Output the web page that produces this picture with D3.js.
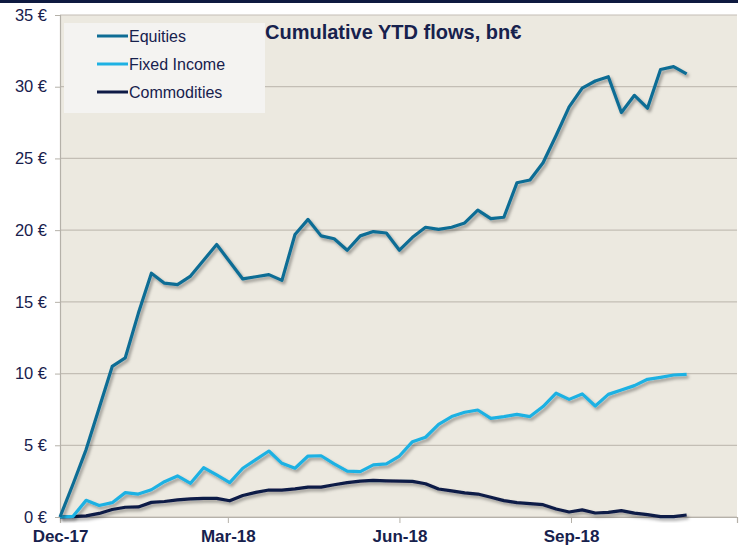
<!DOCTYPE html>
<html>
<head>
<meta charset="utf-8">
<script src="https://cdn.jsdelivr.net/npm/d3@7"></script>
<style>
  body { margin: 0; background: #fff; }
  svg { display: block; font-family: "Liberation Sans", Arial, sans-serif; }
</style>
</head>
<body>
<div id="chart"></div>
<script>
// weekly cumulative flows, bn EUR
const seriesNames = ["Equities", "Fixed Income", "Commodities"];
const equities = [0, 2.3, 4.7, 7.6, 10.5, 11.1, 14.2, 17.0, 16.3, 16.2, 16.8, 17.9, 19.0, 17.8, 16.6, 16.75,
  16.9, 16.5, 19.7, 20.75, 19.6, 19.4, 18.6, 19.6, 19.9, 19.8, 18.6, 19.5, 20.2, 20.05, 20.2, 20.5, 21.4,
  20.8, 20.9, 23.3, 23.5, 24.7, 26.6, 28.6, 29.9, 30.4, 30.7, 28.2, 29.4, 28.5, 31.2, 31.4, 30.9];
const fixedIncome = [0, 0.05, 1.16, 0.8, 1.0, 1.7, 1.6, 1.9, 2.46, 2.86, 2.35, 3.44, 2.93, 2.4, 3.4, 4.0,
  4.6, 3.74, 3.4, 4.25, 4.27, 3.7, 3.2, 3.16, 3.63, 3.7, 4.25, 5.25, 5.56, 6.46, 7.0, 7.3, 7.46,
  6.88, 7.0, 7.16, 7.0, 7.7, 8.63, 8.2, 8.58, 7.74, 8.55, 8.86, 9.16, 9.6, 9.74, 9.9, 9.95];
const commodities = [0, 0.02, 0.08, 0.25, 0.52, 0.68, 0.7, 1.02, 1.08, 1.2, 1.26, 1.3, 1.3, 1.13, 1.5, 1.72,
  1.88, 1.88, 1.96, 2.08, 2.08, 2.25, 2.4, 2.5, 2.55, 2.52, 2.5, 2.48, 2.32, 1.95, 1.82, 1.68, 1.6,
  1.38, 1.14, 1.0, 0.93, 0.86, 0.56, 0.35, 0.5, 0.28, 0.32, 0.44, 0.27, 0.16, 0.03, 0.03, 0.14];
const dates = d3.timeDay.range(new Date(2017, 11, 29), new Date(2018, 11, 1), 7);
const xTicks = [new Date(2017, 11, 29), new Date(2018, 2, 29), new Date(2018, 5, 29), new Date(2018, 8, 29)];
const yTicks = [0, 5, 10, 15, 20, 25, 30, 35];

const w = 744, h = 550;
const plotLeft = 60, plotRight = 737, plotTop = 15, plotBottom = 517;
const colors = ["#0e6d95", "#1eb1e3", "#0e1a46"];
const navy = "#17214d";

const svg = d3.select("#chart").append("svg")
  .attr("width", w)
  .attr("height", h);

const defs = svg.append("defs");
defs.append("filter")
  .attr("id", "shadow")
  .attr("x", "-5%").attr("y", "-5%").attr("width", "110%").attr("height", "120%")
  .append("feDropShadow")
  .attr("dx", 2).attr("dy", 2.5)
  .attr("stdDeviation", 1.4)
  .attr("flood-color", "#000")
  .attr("flood-opacity", 0.35);

// top bar
svg.append("rect")
  .attr("x", 0).attr("y", 0)
  .attr("width", 738).attr("height", 3)
  .attr("fill", "#0e1a40");

const x = d3.scaleTime()
  .domain([new Date(2017, 11, 29), new Date(2018, 11, 27)])
  .range([plotLeft, plotRight]);
const y = d3.scaleLinear()
  .domain([0, 35])
  .range([plotBottom, plotTop]);

// plot background
svg.append("rect")
  .attr("x", plotLeft).attr("y", plotTop)
  .attr("width", plotRight - plotLeft).attr("height", plotBottom - plotTop)
  .attr("fill", "#ece9e0");

// gridlines
svg.append("g")
  .selectAll("line")
  .data(yTicks)
  .join("line")
  .attr("x1", plotLeft).attr("x2", plotRight)
  .attr("y1", d => y(d)).attr("y2", d => y(d))
  .attr("stroke", "#c3beb5")
  .attr("stroke-width", 1.2);

// y axis
const yAxis = svg.append("g")
  .attr("transform", `translate(${plotLeft},0)`)
  .call(d3.axisLeft(y).tickValues(yTicks).tickSize(5).tickPadding(8).tickFormat(d => d + " €"));
yAxis.select(".domain").attr("stroke", "#b5b1a9").attr("stroke-width", 1.2);
yAxis.selectAll(".tick line").attr("stroke", "#b5b1a9");
yAxis.selectAll("text")
  .attr("fill", navy)
  .style("font-size", "16.5px");

// x axis
const xAxis = svg.append("g")
  .attr("transform", `translate(0,${plotBottom})`)
  .call(d3.axisBottom(x).tickValues(xTicks).tickSize(6).tickPadding(7).tickFormat(d3.timeFormat("%b-%y")));
xAxis.select(".domain").attr("stroke", "#b5b1a9").attr("stroke-width", 1.2);
xAxis.selectAll(".tick line").attr("stroke", "#b5b1a9");
xAxis.selectAll("text")
  .attr("fill", navy)
  .style("font-size", "17px")
  .style("font-weight", "bold");

// lines
const line = d3.line()
  .x((d, i) => x(dates[i]))
  .y(d => y(d));

svg.append("g")
  .selectAll("path")
  .data([commodities, fixedIncome, equities])
  .join("path")
  .attr("d", line)
  .attr("fill", "none")
  .attr("stroke", (d, i) => colors[2 - i])
  .attr("stroke-width", 3.2)
  .attr("stroke-linejoin", "round")
  .attr("filter", "url(#shadow)");

// legend
svg.append("rect")
  .attr("x", 64).attr("y", 23)
  .attr("width", 201).attr("height", 90)
  .attr("fill", "#f4f3f1");

const legend = svg.selectAll(".legend")
  .data(seriesNames)
  .join("g")
  .attr("class", "legend")
  .attr("transform", (d, i) => `translate(97,${36 + i * 28})`);

legend.append("line")
  .attr("x1", 0).attr("x2", 31)
  .attr("stroke", (d, i) => colors[i])
  .attr("stroke-width", 3);

legend.append("text")
  .attr("x", 32)
  .attr("y", 6)
  .attr("fill", navy)
  .style("font-size", "16px")
  .text(d => d);

// title
svg.append("text")
  .attr("x", 265)
  .attr("y", 39)
  .attr("fill", navy)
  .style("font-size", "20px")
  .style("font-weight", "bold")
  .text("Cumulative YTD flows, bn€");
</script>
</body>
</html>
